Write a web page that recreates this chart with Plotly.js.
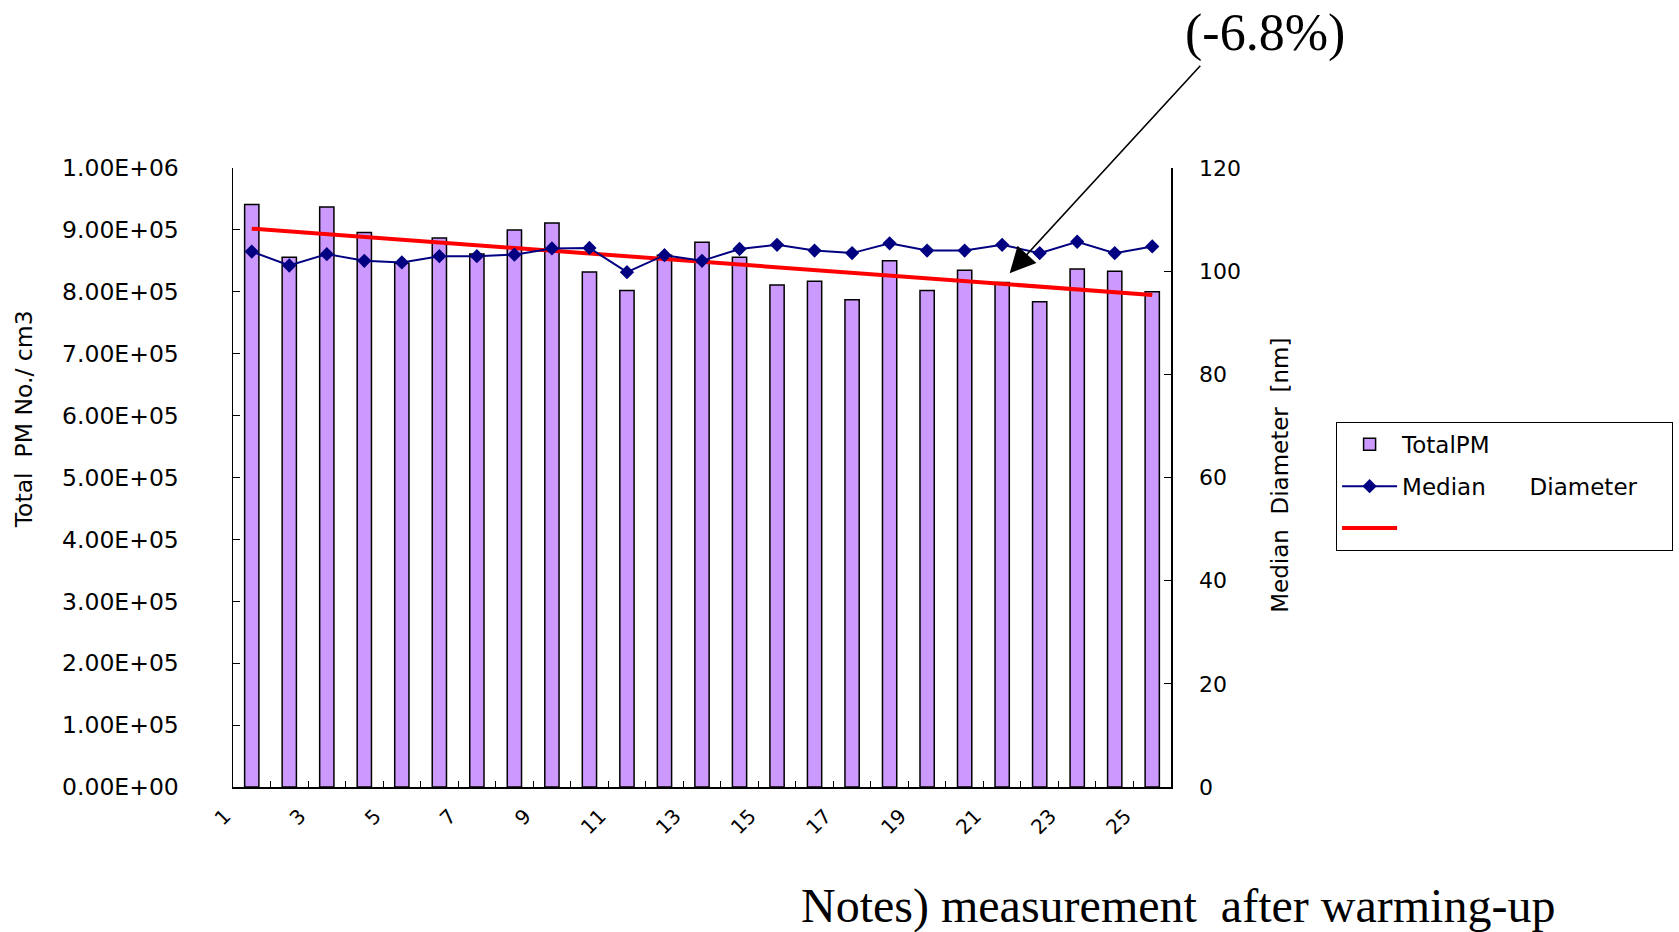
<!DOCTYPE html>
<html>
<head>
<meta charset="utf-8">
<script src="https://cdn.plot.ly/plotly-3.0.1.min.js"></script>
<style>html,body{margin:0;padding:0;background:#fff;}#chart{width:1679px;height:932px;}</style>
</head>
<body>
<div id="chart"></div>
<script>
// ---- data ----
const categories = [1,2,3,4,5,6,7,8,9,10,11,12,13,14,15,16,17,18,19,20,21,22,23,24,25];
const totalPM = [941000, 856000, 937000, 896000, 846000, 887000, 861000, 900000, 911000, 832000,
                 802000, 859000, 880000, 856000, 811000, 817000, 787000, 850000, 802000, 835000,
                 815000, 784000, 837000, 833000, 800000];
const medianDiameter = [103.8, 101.1, 103.3, 102.0, 101.7, 102.9, 102.9, 103.2, 104.4, 104.5,
                        99.8, 103.1, 102.0, 104.3, 105.1, 104.0, 103.5, 105.4, 104.0, 104.0,
                        105.1, 103.5, 105.7, 103.5, 104.8];
const trendX = [1, 25];
const trendY = [902000, 795000];
const xTickLabels = ['1','3','5','7','9','11','13','15','17','19','21','23','25'];
const leftTickValues = [0, 100000, 200000, 300000, 400000, 500000, 600000, 700000, 800000, 900000, 1000000];
const leftTickLabels = ['0.00E+00','1.00E+05','2.00E+05','3.00E+05','4.00E+05','5.00E+05',
                        '6.00E+05','7.00E+05','8.00E+05','9.00E+05','1.00E+06'];
const seriesNames = ['TotalPM', 'Median\u00a0\u00a0\u00a0\u00a0\u00a0\u00a0Diameter\u00a0\u00a0\u00a0\u00a0', '\u00a0'];
const annotationText = '(-6.8%)';
const noteText = 'Notes) measurement\u00a0\u00a0after warming-up';
const leftTitle = 'Total\u00a0\u00a0PM No./ cm3';
const rightTitle = 'Median\u00a0\u00a0Diameter\u00a0\u00a0[nm]';

// category boundaries carry the ticks; labels sit at the left boundary of odd categories
const boundaryVals = categories.map(c => c - 0.5).concat([categories[categories.length - 1] + 0.5]);
const boundaryText = boundaryVals.map(v => {
  const lbl = String(v + 0.5);
  return xTickLabels.indexOf(lbl) >= 0 ? lbl : '';
});

const font = 'DejaVu Sans, Verdana, sans-serif';
const serif = 'Liberation Serif, Times New Roman, serif';

const traces = [
  {
    type: 'bar', x: categories, y: totalPM, name: seriesNames[0], legendgroup: 'a',
    width: 0.38,
    marker: {color: '#CC99FF', line: {color: '#000000', width: 1.5}},
    yaxis: 'y', xaxis: 'x'
  },
  {
    type: 'scatter', mode: 'lines+markers', x: categories, y: medianDiameter, name: seriesNames[1], legendgroup: 'b',
    line: {color: '#000080', width: 2},
    marker: {symbol: 'diamond', size: 11, color: '#000080'},
    yaxis: 'y2', xaxis: 'x'
  },
  {
    type: 'scatter', mode: 'lines', x: trendX, y: trendY, name: seriesNames[2], legendgroup: 'c',
    line: {color: '#FF0000', width: 4},
    yaxis: 'y', xaxis: 'x'
  }
];

const layout = {
  width: 1679, height: 932,
  margin: {l: 233, r: 508, t: 168, b: 145, autoexpand: false},
  paper_bgcolor: '#ffffff', plot_bgcolor: '#ffffff',
  font: {family: font, size: 22, color: '#000000'},
  showlegend: true,
  bargap: 0,
  xaxis: {
    range: [0.5, 25.5], type: 'linear',
    tickmode: 'array', tickvals: boundaryVals, ticktext: boundaryText,
    tickangle: -45, tickfont: {size: 20, family: font},
    ticks: 'inside', ticklen: 6, tickcolor: '#000', tickwidth: 1,
    showline: true, linecolor: '#000000', linewidth: 1.5,
    showgrid: false, zeroline: false, ticklabelstandoff: 8, ticklabelshift: -8
  },
  xaxis2: {
    range: [0.5, 25.5], overlaying: 'x', side: 'top',
    showline: true, linecolor: '#808080', linewidth: 1.5,
    showticklabels: false, ticks: '', showgrid: false, zeroline: false
  },
  yaxis: {
    range: [0, 1000000],
    tickmode: 'array', tickvals: leftTickValues, ticktext: leftTickLabels,
    ticks: 'inside', ticklen: 7, tickcolor: '#000',
    showline: true, linecolor: '#000000', linewidth: 1.5,
    showgrid: false, zeroline: false, ticklabelstandoff: 48,
    tickfont: {size: 23.5, family: font}
  },
  yaxis2: {
    range: [0, 120], overlaying: 'y', side: 'right', dtick: 20, tick0: 0,
    ticks: 'inside', ticklen: 7, tickcolor: '#000',
    showline: true, linecolor: '#000000', linewidth: 1.5,
    showgrid: false, zeroline: false, ticklabelstandoff: 22,
    tickfont: {size: 22, family: font}
  },
  legend: {
    x: 1.176, y: 0.59, xanchor: 'left', yanchor: 'top',
    bordercolor: '#000000', borderwidth: 1, bgcolor: '#ffffff',
    font: {size: 23, family: font},
    traceorder: 'grouped', tracegroupgap: 9, itemwidth: 55,
    itemclick: false
  },
  annotations: [
    {xref: 'paper', yref: 'paper', x: -0.2228, y: 0.594, text: leftTitle, textangle: -90,
     showarrow: false, font: {size: 23.5, family: font}, xanchor: 'center', yanchor: 'middle'},
    {xref: 'paper', yref: 'paper', x: 1.116, y: 0.504, text: rightTitle, textangle: -90,
     showarrow: false, font: {size: 23, family: font}, xanchor: 'center', yanchor: 'middle'},
    {xref: 'paper', yref: 'paper', x: 1.100, y: 1.218, text: annotationText,
     showarrow: false, font: {size: 52, family: serif}, xanchor: 'center', yanchor: 'middle'},
    {xref: 'paper', yref: 'paper', x: 1.0075, y: -0.192, text: noteText,
     showarrow: false, font: {size: 48, family: serif}, xanchor: 'center', yanchor: 'middle'},
    {xref: 'paper', yref: 'paper', x: 0.828, y: 0.830, text: '', showarrow: true,
     ax: 192, ay: -209, arrowhead: 2, arrowsize: 3.2, arrowwidth: 1.6, arrowcolor: '#000000', standoff: 0}
  ]
};

Plotly.newPlot('chart', traces, layout, {displayModeBar: false, staticPlot: true});
</script>
</body>
</html>
